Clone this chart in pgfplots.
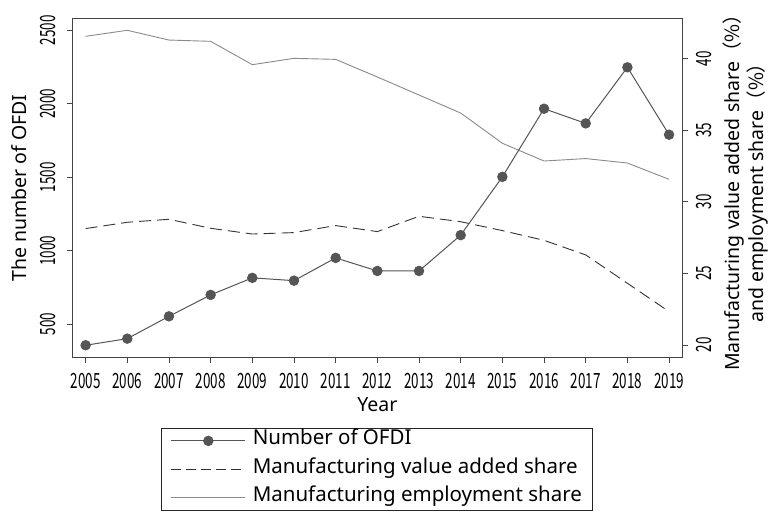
\documentclass[border=0pt]{standalone}
\usepackage{fontspec}
\setmainfont{Noto Sans}
\newfontfamily\cjk{Noto Sans CJK JP}
\newfontfamily\tickfont[FakeStretch=0.64]{Noto Sans CJK JP}
\usepackage{pgfplots}
\pgfplotsset{compat=1.18}
\definecolor{ofdi}{HTML}{555555}
\definecolor{vadd}{HTML}{333333}
\definecolor{empl}{HTML}{8A8A8A}
\definecolor{frame}{HTML}{444444}
\newcommand{\lblfont}{\fontsize{19.5}{24}\selectfont}
\pgfplotsset{
  common/.style={
    width=609.3pt, height=338pt, scale only axis,
    xmin=2004.69, xmax=2019.31,
    /pgf/number format/assume math mode=true,
    /pgf/number format/1000 sep={},
    tick align=outside,
    major tick length=6pt,
    every tick/.style={frame, line width=0.9pt},
    tick label style={font=\fontsize{21}{21}\selectfont\tickfont},
  }
}
\begin{document}
\begin{tikzpicture}
% right axis: shares
\begin{axis}[common,
  ymin=19.16, ymax=42.77,
  hide x axis,
  axis y line*=right,
  axis line style={frame, line width=1pt},
  ytick={20,25,30,35,40},
  ytick pos=right,
  yticklabel style={xshift=8pt, rotate=90, anchor=north, inner sep=0pt},
  ylabel={Manufacturing value added share{\cjk（\%）}\\and employment share{\cjk（\%）}},
  every axis y label/.style={at={(axis description cs:1,0.5)}, xshift=63pt, rotate=90, anchor=center, align=center, font=\lblfont},
]
\addplot[vadd, line width=0.9pt, dash pattern=on 12pt off 6pt] coordinates {
(2005,28.13)(2006,28.57)(2007,28.78)(2008,28.15)(2009,27.75)(2010,27.85)(2011,28.34)(2012,27.92)(2013,28.99)(2014,28.61)(2015,27.99)(2016,27.31)(2017,26.29)(2018,24.31)(2019,22.33)};
\addplot[empl, line width=0.9pt] coordinates {
(2005,41.56)(2006,41.98)(2007,41.30)(2008,41.21)(2009,39.58)(2010,40.02)(2011,39.95)(2012,38.72)(2013,37.46)(2014,36.20)(2015,34.09)(2016,32.85)(2017,33.02)(2018,32.71)(2019,31.57)};
\end{axis}
% left axis: OFDI
\begin{axis}[common,
  ymin=275, ymax=2577,
  axis line style={frame, line width=1pt},
  xtick={2005,2006,...,2019},
  xtick pos=left, ytick pos=left,
  ytick={500,1000,1500,2000,2500},
  yticklabel style={xshift=-11pt, rotate=90, anchor=south, inner sep=0pt},
  xticklabel style={anchor=north, inner sep=0pt, yshift=-10pt},
  xlabel={Year},
  ylabel={The number of OFDI},
  every axis x label/.style={at={(axis description cs:0.5,0)}, yshift=-47.7pt, anchor=center, font=\lblfont},
  every axis y label/.style={at={(axis description cs:0,0.5)}, xshift=-53.7pt, rotate=90, anchor=center, font=\lblfont},
  legend cell align=left,
  legend image code/.code={\draw[mark repeat=2, mark phase=2, #1] plot coordinates {(0pt,0pt)(37pt,0pt)(74pt,0pt)};},
  legend style={at={(axis description cs:0.5,0)}, anchor=north, yshift=-71pt,
    draw=black!85, line width=0.8pt, font=\fontsize{20.5}{22}\selectfont,
    inner xsep=9pt, inner ysep=2.5pt, row sep=8.5pt,
    /tikz/every odd column/.append style={column sep=5pt},
    nodes={inner xsep=2pt, inner ysep=0pt, text height=14pt, text depth=6pt}},
]
\addplot[ofdi, line width=1pt, mark=*, mark size=4.7pt, mark options={solid, fill=ofdi, draw=ofdi}] coordinates {
(2005,355)(2006,400)(2007,552)(2008,698)(2009,814)(2010,795)(2011,950)(2012,861)(2013,861)(2014,1105)(2015,1502)(2016,1966)(2017,1866)(2018,2248)(2019,1789)};
\addlegendentry{Number of OFDI}
\addlegendimage{vadd, line width=0.9pt, dash pattern=on 10pt off 5pt}
\addlegendentry{Manufacturing value added share}
\addlegendimage{empl, line width=0.9pt}
\addlegendentry{Manufacturing employment share}
\end{axis}
\pgfresetboundingbox
\path[use as bounding box] (-72.7pt,-155pt) rectangle (696.3pt,357pt);
\end{tikzpicture}
\end{document}
